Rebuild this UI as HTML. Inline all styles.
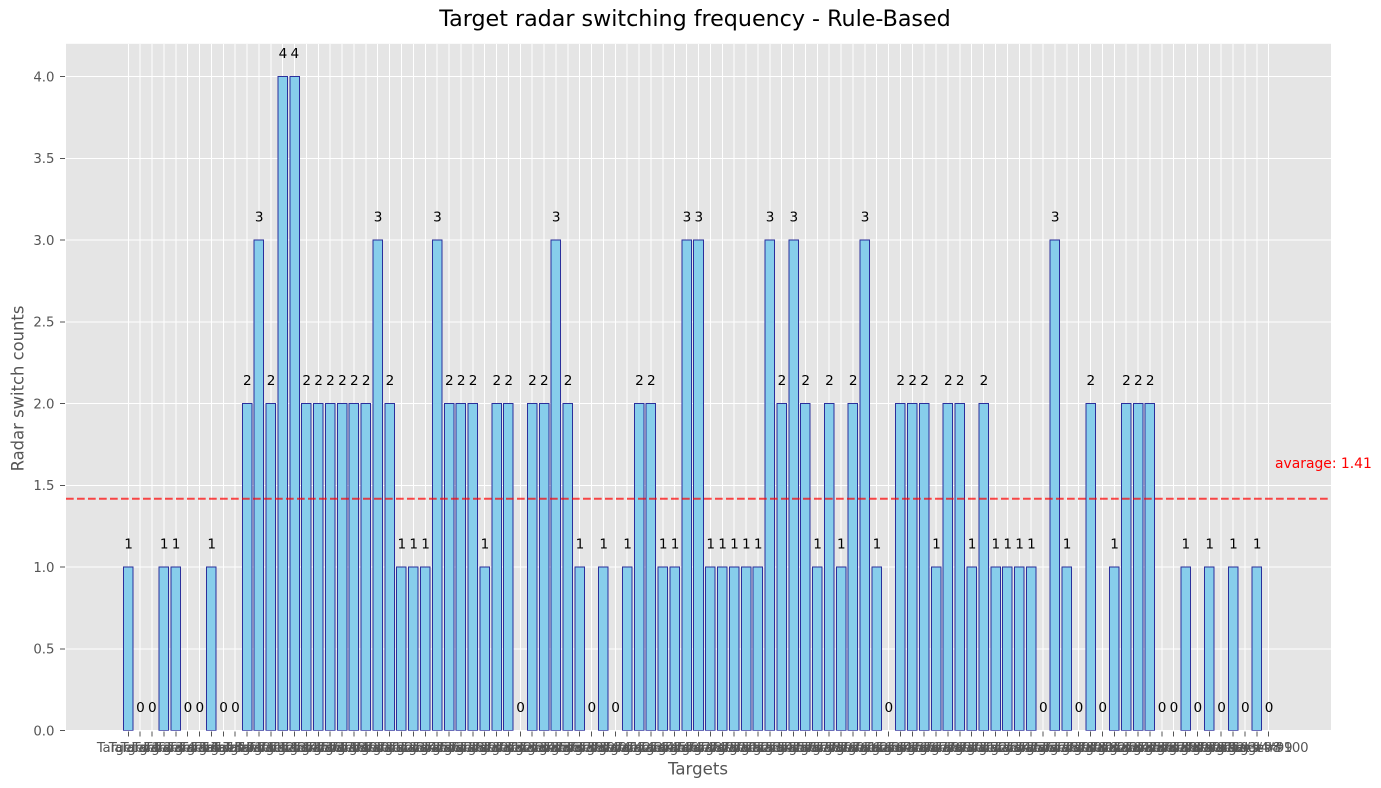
<!DOCTYPE html>
<html>
<head>
<meta charset="utf-8">
<title>Target radar switching frequency - Rule-Based</title>
<style>
html,body{margin:0;padding:0;background:#fff;}
svg{display:block;}
text{font-family:"DejaVu Sans","Liberation Sans",sans-serif;}
#grid line,#bars rect,#ticks line{shape-rendering:crispEdges;}
</style>
</head>
<body>
<svg id="chart" xmlns="http://www.w3.org/2000/svg" width="1381" height="788" viewBox="0 0 1381 788">
<rect x="66" y="43.8" width="1265" height="686.9" fill="#E5E5E5"/>
<g id="grid"></g>
<g id="bars"></g>
<rect x="66" y="730.7" width="1265" height="1.3" fill="#fff"/>
<g id="ticks"></g>
<g id="labels"></g>
<g id="avg"></g>
<text x="695" y="26" text-anchor="middle" font-size="22.2" fill="#000">Target radar switching frequency - Rule-Based</text>
<text x="698" y="774.5" text-anchor="middle" font-size="16.6" fill="#555">Targets</text>
<text transform="translate(23.5,388.5) rotate(-90)" text-anchor="middle" font-size="16.4" fill="#555">Radar switch counts</text>
</svg>
<script>
const targetIds = [1,2,3,4,5,6,7,8,9,10,11,12,13,14,15,16,17,18,19,20,21,22,23,24,25,26,27,28,29,30,31,32,33,34,35,36,37,38,39,40,41,42,43,44,45,46,47,48,49,50,51,52,53,54,55,56,57,58,59,60,61,62,63,64,65,66,67,68,69,70,71,72,73,74,75,76,77,78,79,80,81,82,83,84,85,86,87,88,89,90,91,92,93,94,98,99,100];
const switchCounts = [1,0,0,1,1,0,0,1,0,0,2,3,2,4,4,2,2,2,2,2,2,3,2,1,1,1,3,2,2,2,1,2,2,0,2,2,3,2,1,0,1,0,1,2,2,1,1,3,3,1,1,1,1,1,3,2,3,2,1,2,1,2,3,1,0,2,2,2,1,2,2,1,2,1,1,1,1,0,3,1,0,2,0,1,2,2,2,0,0,1,0,1,0,1,0,1,0];
const yTickLabels = ["0.0","0.5","1.0","1.5","2.0","2.5","3.0","3.5","4.0"];
const averageValue = 1.418;
const averageText = "avarage: 1.41";

const NS = 'http://www.w3.org/2000/svg';
const plot = {left: 66, right: 1331, top: 43.8, bottom: 730.7};
const n = switchCounts.length;
const xMargin = (n - 1 + 0.8) * 0.05 + 0.4;
const xMin = -xMargin, xMax = n - 1 + xMargin;
const yMax = 4.2;
function xScale(i){ return plot.left + (i - xMin) / (xMax - xMin) * (plot.right - plot.left); }
function yScale(v){ return plot.bottom - v / yMax * (plot.bottom - plot.top); }
function make(tag, attrs, parent, txt){
  const el = document.createElementNS(NS, tag);
  for (const k in attrs) el.setAttribute(k, attrs[k]);
  if (txt !== undefined) el.textContent = txt;
  parent.appendChild(el);
  return el;
}
const gGrid = document.getElementById('grid');
const gBars = document.getElementById('bars');
const gTicks = document.getElementById('ticks');
const gLabels = document.getElementById('labels');
const gAvg = document.getElementById('avg');

yTickLabels.forEach(function(t){
  const y = yScale(parseFloat(t));
  const g = make('line', {x1: plot.left, x2: plot.right, y1: y, y2: y, stroke: '#fff', 'stroke-width': 1}, gGrid);
  
  
  const tk = make('line', {x1: plot.left - 5.9, x2: plot.left - 1, y1: y, y2: y, stroke: '#555', 'stroke-width': 1}, gTicks);
  
  
  const lb = make('text', {x: plot.left - 11.5, y: y + 4.8, 'text-anchor': 'end', 'font-size': 13.3, fill: '#555'}, gTicks, t);
  
  
});

switchCounts.forEach(function(v, i){
  const x = xScale(i);
  const g = make('line', {x1: x, x2: x, y1: plot.top, y2: plot.bottom, stroke: '#fff', 'stroke-width': 1}, gGrid);
  
  
  const w = xScale(0.4) - xScale(-0.4);
  const bar = make('rect', {x: x - w / 2, y: yScale(v), width: w, height: plot.bottom - yScale(v), fill: '#87CEEB', stroke: '#2a2f9c', 'stroke-width': 1}, gBars);
  
  
  const tk = make('line', {x1: x, x2: x, y1: plot.bottom + 1, y2: plot.bottom + 5.9, stroke: '#555', 'stroke-width': 1}, gTicks);
  
  
  const tl = make('text', {x: x, y: 752, 'text-anchor': 'middle', 'font-size': 13.3, 'letter-spacing': -0.25, fill: '#555'}, gTicks, 'Target #' + targetIds[i]);
  
  
  const vl = make('text', {x: x + 0.3, y: yScale(v) - 18.7, 'text-anchor': 'middle', 'font-size': 13.6, fill: '#000'}, gLabels, String(v));
  
  
});

const avgY = yScale(averageValue);
const avgLine = make('line', {x1: plot.left, x2: plot.right, y1: avgY, y2: avgY, stroke: 'red', 'stroke-opacity': 0.7, 'stroke-width': 2, 'stroke-dasharray': '7.7 3.3'}, gAvg);


const avgText = make('text', {x: 1275, y: avgY - 31, 'font-size': 13.9, fill: 'red'}, gAvg, averageText);


</script>
</body>
</html>
